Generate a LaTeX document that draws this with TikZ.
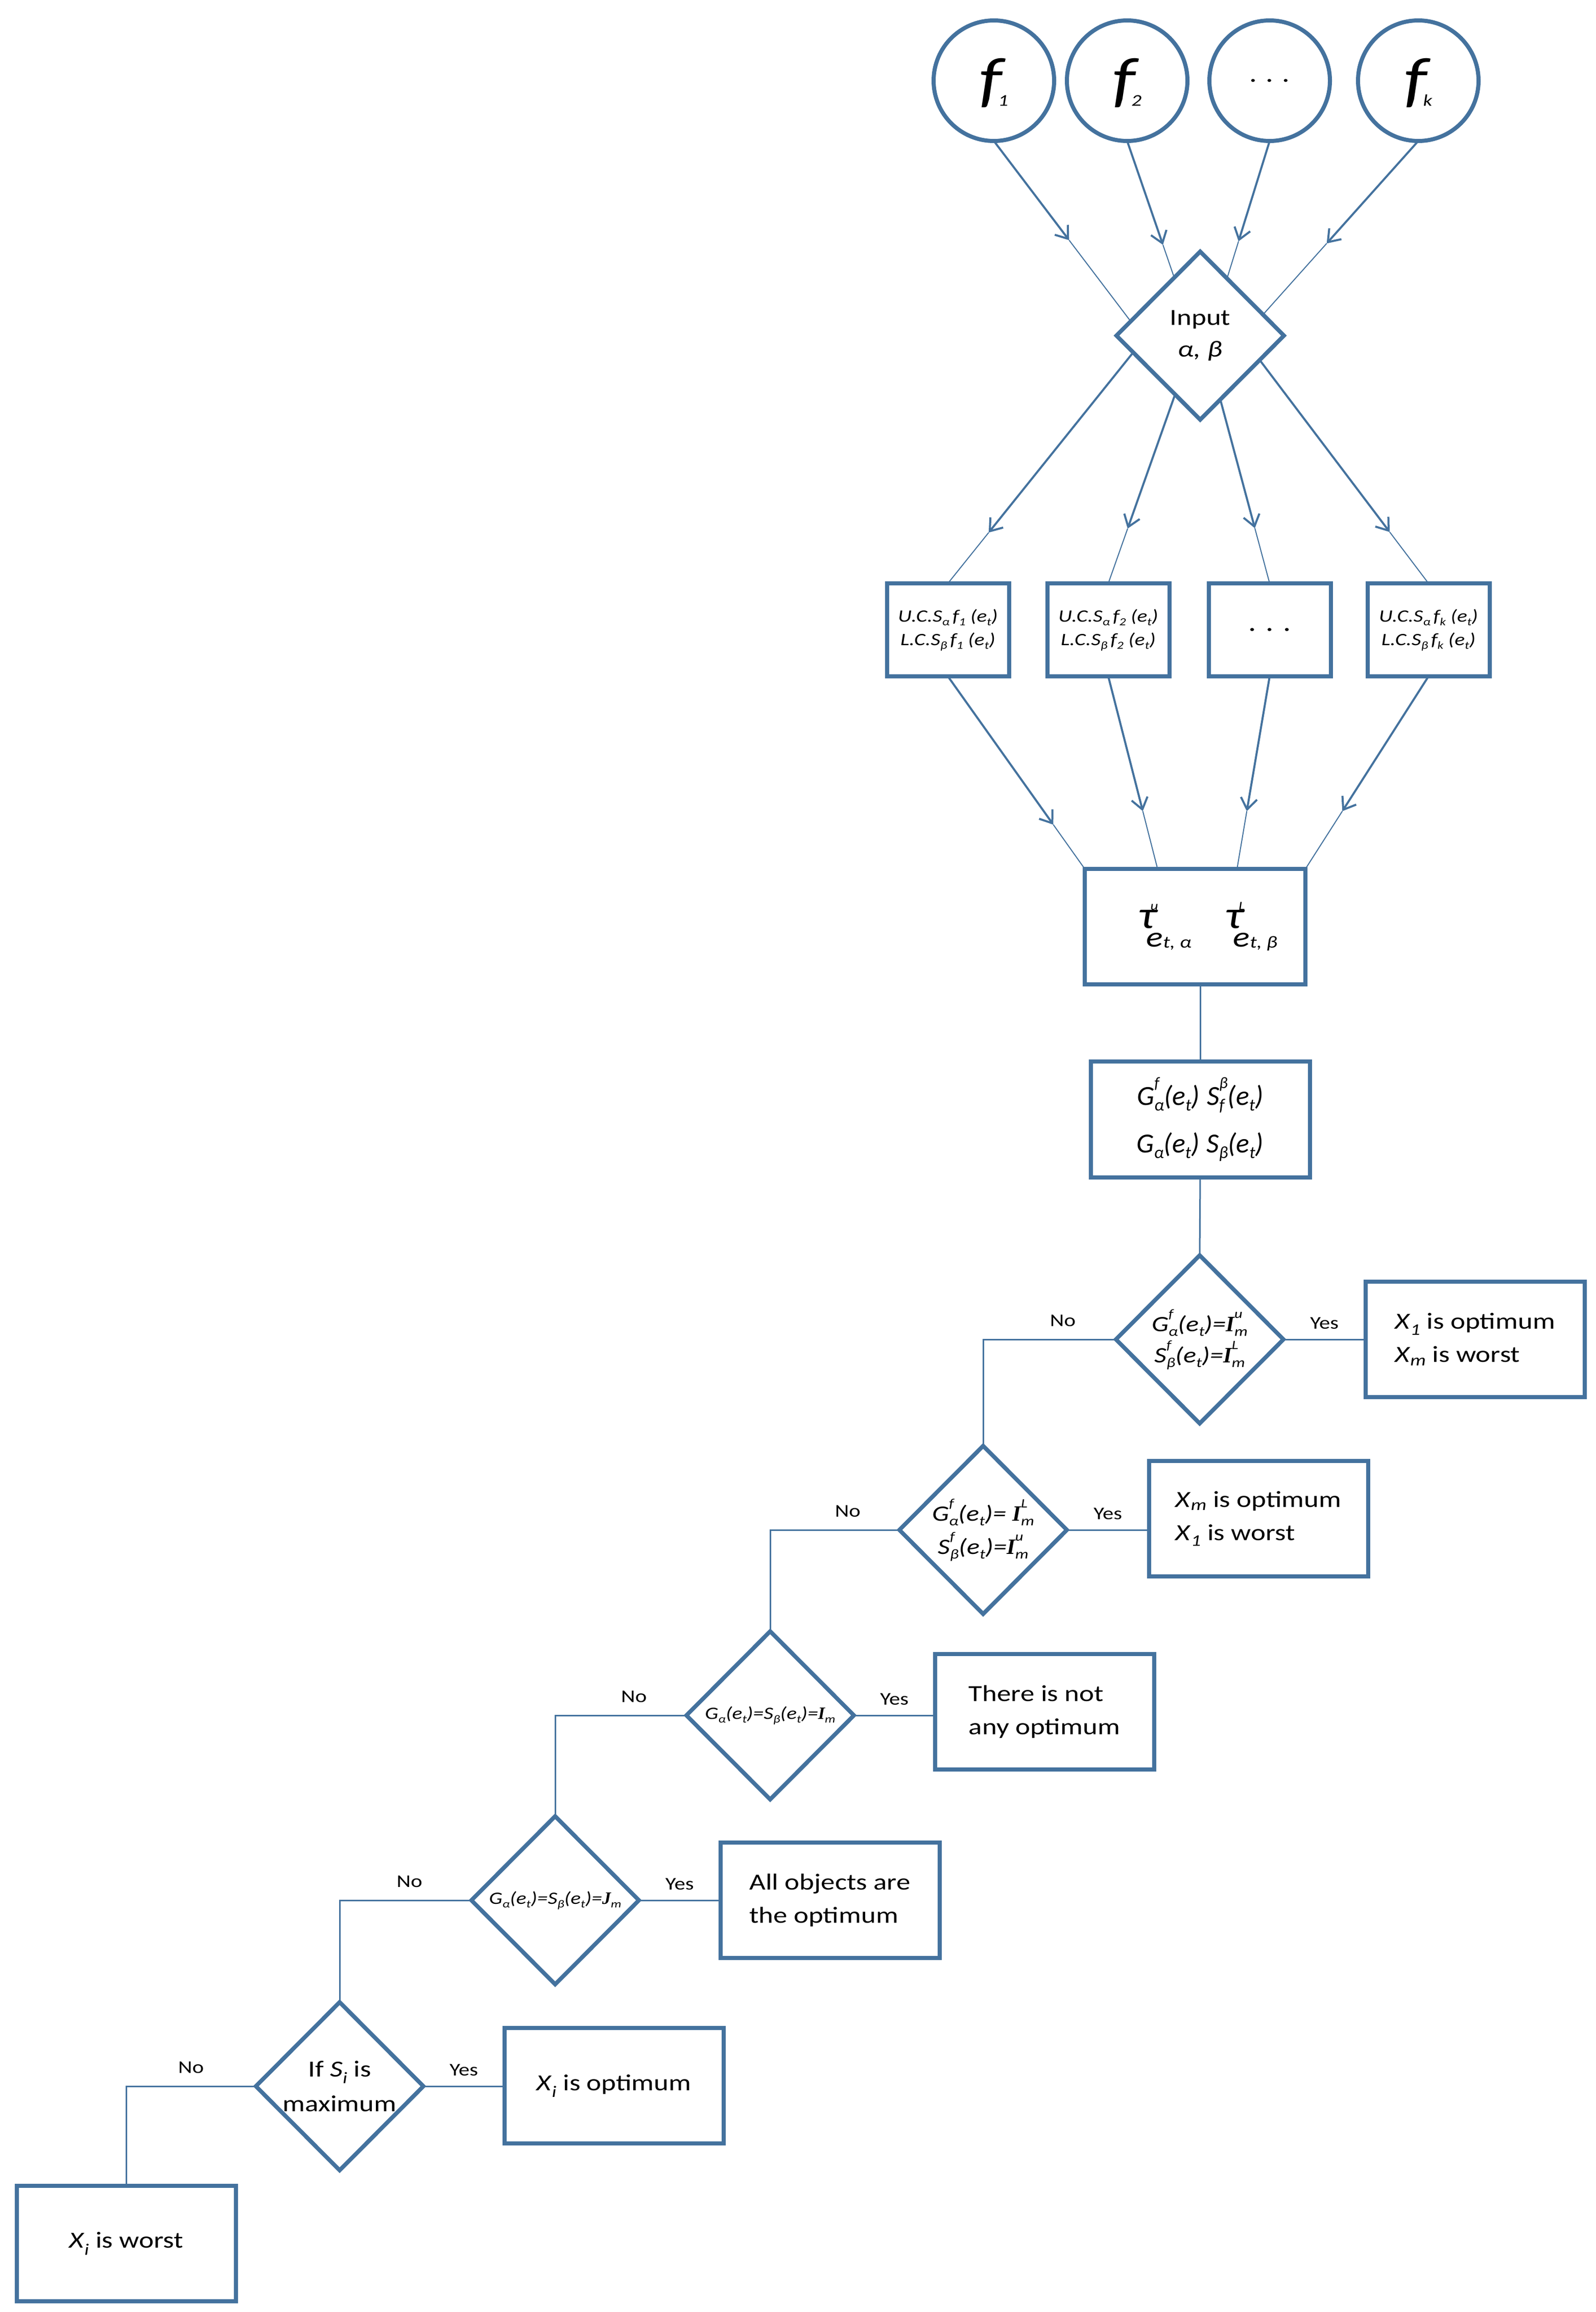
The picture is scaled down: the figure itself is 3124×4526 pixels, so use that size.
\documentclass[tikz,border=0pt]{standalone}
\usepackage{fontspec}
\setmainfont{Carlito}[FakeStretch=1.22]
\newfontfamily\narrowfont{Carlito}
\newfontfamily\serifit{Liberation Serif}
\usetikzlibrary{shapes.geometric,arrows.meta,calc}
\definecolor{fc}{RGB}{68,114,158}
\newcommand{\fsz}[2]{\fontsize{#1}{#2}\selectfont}
\makeatletter
\newcommand{\rsz}[1]{\fontsize{\the\dimexpr\f@size pt*#1/100\relax}{0pt}\selectfont}
\makeatother
\newsavebox\supbx
\newsavebox\subbx
\newcommand{\up}[1]{\raisebox{0.62em}{\rsz{58}#1}}
\newcommand{\dn}[1]{\raisebox{-0.2em}{\rsz{62}#1}}
\newcommand{\ssb}[2]{{\sbox\supbx{\up{#1}}\sbox\subbx{\dn{#2}}\rlap{\usebox\supbx}\ifdim\wd\supbx>\wd\subbx\makebox[\wd\supbx][l]{\usebox\subbx}\else\usebox\subbx\fi}}
\newcommand{\Iit}{{\serifit\bfseries\itshape I}}
\newcommand{\Jit}{{\serifit\bfseries\itshape J}}
\newcommand{\Xs}[1]{\textit{X}\textsubscript{\itshape #1}}
\newcommand{\fcirc}[1]{\raisebox{0pt}[100pt][24pt]{f\kern-8pt\raisebox{-11pt}{\fsz{32}{32}#1}}}
\newcommand{\tauA}[2]{{\fsz{76}{76}τ}\llap{\raisebox{36pt}{\fsz{24}{24}#1}\kern-3pt}\kern-20pt\raisebox{-36pt}{\fsz{56}{56}e\raisebox{-2pt}{\fsz{33}{33}t, #2}}}
\begin{document}
\begin{tikzpicture}[x=1pt,y=-1pt,
  every node/.style={inner sep=0pt, outer sep=0pt},
  fnode/.style={circle, draw=fc, line width=8pt, minimum size=236pt},
  sbox/.style={rectangle, draw=fc, line width=8pt, minimum width=239pt, minimum height=182pt, align=center, font=\itshape\fsz{34}{46}},
  bigbox/.style={rectangle, draw=fc, line width=8pt, minimum width=429pt, minimum height=226pt, align=left, font=\fsz{45}{65}},
  diam/.style={diamond, draw=fc, line width=8pt, minimum width=328pt, minimum height=329pt, align=center},
  thickarr/.style={draw=fc, line width=4pt, -{Straight Barb[length=22pt,width=32pt]}},
  thinln/.style={draw=fc, line width=2pt},
  conn/.style={draw=fc, line width=3pt},
  lab/.style={font=\fsz{35}{35}}
]
\fill[white] (0,0) rectangle (3124,4526);
\useasboundingbox (0,0) rectangle (3124,4526);

% input circles
\node[fnode, font=\itshape\fsz{120}{120}] (c1) at (1946,158) {\fcirc{1}};
\node[fnode, font=\itshape\fsz{120}{120}] (c2) at (2207,158) {\fcirc{2}};
\node[fnode, font=\fsz{48}{48}] (c3) at (2486,158) {. . .};
\node[fnode, font=\itshape\fsz{120}{120}] (c4) at (2777,158) {\fcirc{k}};

% input diamond
\node[diam, font=\fsz{45}{62}] (inp) at (2350,657) {Input\\\textit{α, β}};

% bound boxes
\node[sbox] (s1) at (1856,1233) {U.C.S\dn{α}\,f\dn{1} (e\dn{t})\\L.C.S\dn{β}\,f\dn{1} (e\dn{t})};
\node[sbox] (s2) at (2170,1233) {U.C.S\dn{α}\,f\dn{2} (e\dn{t})\\L.C.S\dn{β}\,f\dn{2} (e\dn{t})};
\node[sbox, font=\fsz{50}{50}] (s3) at (2486,1233) {. . .};
\node[sbox] (s4) at (2797,1233) {U.C.S\dn{α}\,f\dn{k} (e\dn{t})\\L.C.S\dn{β}\,f\dn{k} (e\dn{t})};

% tau box
\node[rectangle, draw=fc, line width=8pt, minimum width=432pt, minimum height=226pt, font=\itshape] (tau) at (2340,1814) {\hspace*{50pt}\tauA{u}{α}\hspace{66pt}\tauA{L}{β}};

% G box
\node[rectangle, draw=fc, line width=8pt, minimum width=429pt, minimum height=227pt, align=center, font=\narrowfont\itshape\fsz{54}{93}] (gbox) at (2350,2191) {G\ssb{f}{α}(e\dn{t})\hspace{14pt}S\ssb{β}{f}(e\dn{t})\\G\dn{α}(e\dn{t})\hspace{14pt}S\dn{β}(e\dn{t})};

% decisions
\node[diam, font=\itshape\fsz{43}{61}] (d1) at (2349,2622) {G\ssb{f}{α}(e\dn{t})=\Iit\ssb{u}{m}\\S\ssb{f}{β}(e\dn{t})=\Iit\ssb{L}{m}};
\node[diam, font=\itshape\fsz{43}{65}] (d2) at (1925,2995) {G\ssb{f}{α}(e\dn{t})= \Iit\ssb{L}{m}\\S\ssb{f}{β}(e\dn{t})=\Iit\ssb{u}{m}};
\node[diam, font=\itshape\fsz{34}{34}] (d3) at (1508,3358) {G\dn{α}(e\dn{t})=S\dn{β}(e\dn{t})=\Iit\dn{m}};
\node[diam, font=\itshape\fsz{34}{34}] (d4) at (1087,3720) {G\dn{α}(e\dn{t})=S\dn{β}(e\dn{t})=\Jit\dn{m}};
\node[diam, font=\fsz{45}{68}] (d5) at (665,4084) {If \textit{S}\textsubscript{\itshape i} is\\maximum};

% result boxes
\node[bigbox] (r1) at (2888,2622) {\Xs{1} is optimum\\\Xs{m} is worst};
\node[bigbox] (r2) at (2464,2973) {\Xs{m} is optimum\\\Xs{1} is worst};
\node[bigbox] (r3) at (2045,3351) {There is not\\any optimum};
\node[bigbox] (r4) at (1625,3720) {All objects are\\the optimum};
\node[bigbox] (r5) at (1202,4083) {\Xs{i} is optimum};
\node[bigbox] (r6) at (247,4392) {\Xs{i} is worst};

% circles -> input
\coordinate (iA) at ($(inp.west)!0.17!(inp.north)$);
\coordinate (iB) at ($(inp.west)!0.69!(inp.north)$);
\coordinate (iC) at ($(inp.north)!0.32!(inp.east)$);
\coordinate (iD) at ($(inp.north)!0.75!(inp.east)$);
\coordinate (a1) at ($(c1.south)!0.55!(iA)$);
\coordinate (a2) at ($(c2.south)!0.76!(iB)$);
\coordinate (a3) at ($(c3.south)!0.73!(iC)$);
\coordinate (a4) at ($(c4.south)!0.59!(iD)$);
\draw[thickarr] (c1.south) -- (a1); \draw[thinln] (a1) -- (iA);
\draw[thickarr] (c2.south) -- (a2); \draw[thinln] (a2) -- (iB);
\draw[thickarr] (c3.south) -- (a3); \draw[thinln] (a3) -- (iC);
\draw[thickarr] (c4.south) -- (a4); \draw[thinln] (a4) -- (iD);

% input -> boxes
\coordinate (oA) at ($(inp.west)!0.2!(inp.south)$);
\coordinate (oB) at ($(inp.west)!0.7!(inp.south)$);
\coordinate (oC) at ($(inp.east)!0.76!(inp.south)$);
\coordinate (oD) at ($(inp.east)!0.29!(inp.south)$);
\coordinate (b1) at ($(oA)!0.78!(s1.north)$);
\coordinate (b2) at ($(oB)!0.71!(s2.north)$);
\coordinate (b3) at ($(oC)!0.70!(s3.north)$);
\coordinate (b4) at ($(oD)!0.77!(s4.north)$);
\draw[thickarr] (oA) -- (b1); \draw[thinln] (b1) -- (s1.north);
\draw[thickarr] (oB) -- (b2); \draw[thinln] (b2) -- (s2.north);
\draw[thickarr] (oC) -- (b3); \draw[thinln] (b3) -- (s3.north);
\draw[thickarr] (oD) -- (b4); \draw[thinln] (b4) -- (s4.north);

% boxes -> tau
\coordinate (tA) at (tau.north west);
\coordinate (tB) at ($(tau.north west)!0.33!(tau.north east)$);
\coordinate (tC) at ($(tau.north west)!0.69!(tau.north east)$);
\coordinate (tD) at (tau.north east);
\coordinate (e1) at ($(s1.south)!0.77!(tA)$);
\coordinate (e2) at ($(s2.south)!0.70!(tB)$);
\coordinate (e3) at ($(s3.south)!0.70!(tC)$);
\coordinate (e4) at ($(s4.south)!0.70!(tD)$);
\draw[thickarr] (s1.south) -- (e1); \draw[thinln] (e1) -- (tA);
\draw[thickarr] (s2.south) -- (e2); \draw[thinln] (e2) -- (tB);
\draw[thickarr] (s3.south) -- (e3); \draw[thinln] (e3) -- (tC);
\draw[thickarr] (s4.south) -- (e4); \draw[thinln] (e4) -- (tD);

% vertical chain
\draw[conn] (tau.south -| gbox.north) -- (gbox.north);
\draw[conn] (gbox.south) -- (d1.north);

% yes branches
\draw[conn] (d1.east) -- (d1.east -| r1.west) node[lab, pos=0.5, above=20pt] {Yes};
\draw[conn] (d2.east) -- (d2.east -| r2.west) node[lab, pos=0.5, above=20pt] {Yes};
\draw[conn] (d3.east) -- (d3.east -| r3.west) node[lab, pos=0.5, above=20pt] {Yes};
\draw[conn] (d4.east) -- (d4.east -| r4.west) node[lab, pos=0.5, above=20pt] {Yes};
\draw[conn] (d5.east) -- (d5.east -| r5.west) node[lab, pos=0.5, above=20pt] {Yes};

% no branches
\draw[conn] (d1.west) -| (d2.north) node[lab, pos=0.2, above=25pt] {No};
\draw[conn] (d2.west) -| (d3.north) node[lab, pos=0.2, above=25pt] {No};
\draw[conn] (d3.west) -| (d4.north) node[lab, pos=0.2, above=25pt] {No};
\draw[conn] (d4.west) -| (d5.north) node[lab, pos=0.235, above=25pt] {No};
\draw[conn] (d5.west) -| (r6.north) node[lab, pos=0.25, above=25pt] {No};
\end{tikzpicture}
\end{document}
